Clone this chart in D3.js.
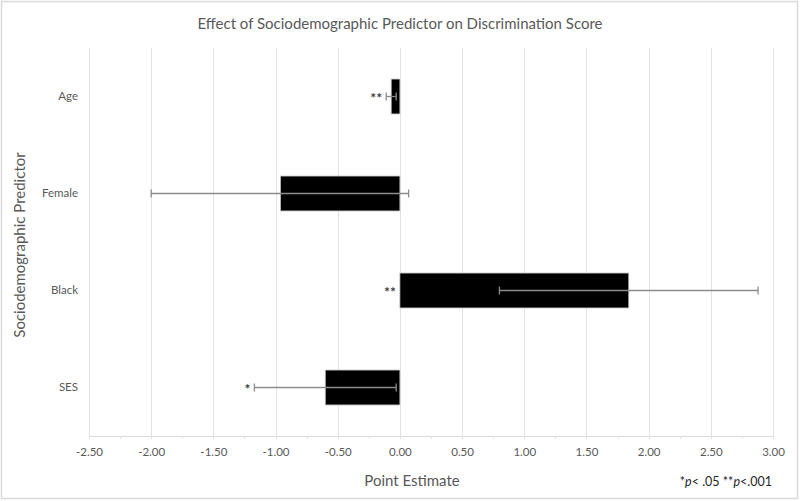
<!DOCTYPE html>
<html>
<head>
<meta charset="utf-8">
<script src="https://cdn.jsdelivr.net/npm/d3@7"></script>
<style>
  body { margin: 0; background: #fff; }
  text { font-family: Lato, "Open Sans", sans-serif; }
</style>
</head>
<body>
<div id="chart"></div>
<script>
// Effect of sociodemographic predictor on discrimination score
var w = 800, h = 501;

var predictors = ["Age", "Female", "Black", "SES"];
var estimates  = [-0.07, -0.96, 1.84, -0.60];
var ciLow      = [-0.11, -2.00, 0.80, -1.17];
var ciHigh     = [-0.03,  0.07, 2.88, -0.03];
var stars      = ["**", "", "**", "*"];
var xTicks     = [-2.5, -2.0, -1.5, -1.0, -0.5, 0, 0.5, 1.0, 1.5, 2.0, 2.5, 3.0];

var rows = predictors.map(function(p, i) {
  return { name: p, est: estimates[i], lo: ciLow[i], hi: ciHigh[i], star: stars[i] };
});

var m = { top: 48, right: 27, bottom: 65, left: 89 };

var svg = d3.select("#chart").append("svg")
  .attr("width", w).attr("height", h);

// outer frame
svg.append("rect").attr("x", 1.5).attr("y", 1.5)
  .attr("width", w - 4).attr("height", h - 4)
  .attr("fill", "#fff").attr("stroke", "#d9d9d9").attr("stroke-width", 1.5);

var x = d3.scaleLinear().domain([-2.5, 3.0]).range([m.left, w - m.right]);
var y = d3.scaleBand().domain(predictors).range([m.top, h - m.bottom]).paddingInner(0.64).paddingOuter(0.32);

// gridlines
svg.append("g").selectAll("line").data(xTicks).enter().append("line")
  .attr("x1", function(d) { return Math.round(x(d)) + 0.5; })
  .attr("x2", function(d) { return Math.round(x(d)) + 0.5; })
  .attr("y1", m.top).attr("y2", h - m.bottom)
  .attr("stroke", "#e3e3e3").attr("stroke-width", 1);

// x axis
var fmt = d3.format(".2f");
var xAxis = d3.axisBottom(x).tickValues(xTicks).tickSize(0).tickPadding(12)
  .tickFormat(function(d) { return fmt(d).replace("\u2212", "-"); });
var gx = svg.append("g").attr("transform", "translate(0," + (h - m.bottom) + ")").call(xAxis);
gx.select(".domain").attr("stroke", "#d9d9d9");
gx.selectAll("text").attr("fill", "#595959").attr("font-size", 11.5);

// minor ticks
svg.append("g").selectAll("line").data(d3.range(-10, 13)).enter().append("line")
  .attr("x1", function(d) { return Math.round(x(d / 4)) + 0.5; })
  .attr("x2", function(d) { return Math.round(x(d / 4)) + 0.5; })
  .attr("y1", h - m.bottom).attr("y2", h - m.bottom + 3)
  .attr("stroke", "#e3e3e3");

// category labels
var yAxis = d3.axisLeft(y).tickSize(0).tickPadding(11);
var gy = svg.append("g").attr("transform", "translate(" + m.left + ",0)").call(yAxis);
gy.select(".domain").remove();
gy.selectAll("text").attr("fill", "#595959").attr("font-size", 11.5);

// bars
svg.append("g").selectAll("rect").data(rows).enter().append("rect")
  .attr("x", function(d) { return x(Math.min(0, d.est)); })
  .attr("y", function(d) { return y(d.name); })
  .attr("width", function(d) { return Math.abs(x(d.est) - x(0)); })
  .attr("height", y.bandwidth())
  .attr("fill", "#000").attr("stroke", "#bfbfbf").attr("stroke-width", 0.8);

// error bars
var eb = svg.append("g").selectAll("g").data(rows).enter().append("g")
  .attr("stroke", "#8c8c8c").attr("stroke-width", 1.3);
eb.append("line")
  .attr("x1", function(d) { return x(d.lo); }).attr("x2", function(d) { return x(d.hi); })
  .attr("y1", function(d) { return y(d.name) + y.bandwidth() / 2; })
  .attr("y2", function(d) { return y(d.name) + y.bandwidth() / 2; });
["lo", "hi"].forEach(function(k) {
  eb.append("line")
    .attr("x1", function(d) { return x(d[k]); }).attr("x2", function(d) { return x(d[k]); })
    .attr("y1", function(d) { return y(d.name) + y.bandwidth() / 2 - 4; })
    .attr("y2", function(d) { return y(d.name) + y.bandwidth() / 2 + 4; });
});

// significance stars
svg.append("g").selectAll("text").data(rows).enter().append("text")
  .attr("x", function(d) { return x(Math.min(0, d.lo)) - 4; })
  .attr("y", function(d) { return y(d.name) + y.bandwidth() / 2 + 6; })
  .attr("text-anchor", "end").attr("font-size", 14).attr("font-weight", "bold")
  .attr("fill", "#404040")
  .text(function(d) { return d.star; });

// titles
svg.append("text").attr("x", 400).attr("y", 29).attr("text-anchor", "middle")
  .attr("font-size", 15).attr("fill", "#595959")
  .text("Effect of Sociodemographic Predictor on Discrimination Score");

svg.append("text").attr("x", 412).attr("y", 486).attr("text-anchor", "middle")
  .attr("font-size", 15).attr("fill", "#595959").text("Point Estimate");

svg.append("text").attr("transform", "translate(25,245) rotate(-90)")
  .attr("text-anchor", "middle").attr("font-size", 15).attr("fill", "#595959")
  .text("Sociodemographic Predictor");

var note = svg.append("text").attr("x", 772).attr("y", 486).attr("text-anchor", "end")
  .attr("font-size", 12.5).attr("fill", "#262626");
note.append("tspan").text("*");
note.append("tspan").attr("font-style", "italic").text("p");
note.append("tspan").text("< .05  **");
note.append("tspan").attr("font-style", "italic").text("p");
note.append("tspan").text("<.001");
</script>
</body>
</html>
